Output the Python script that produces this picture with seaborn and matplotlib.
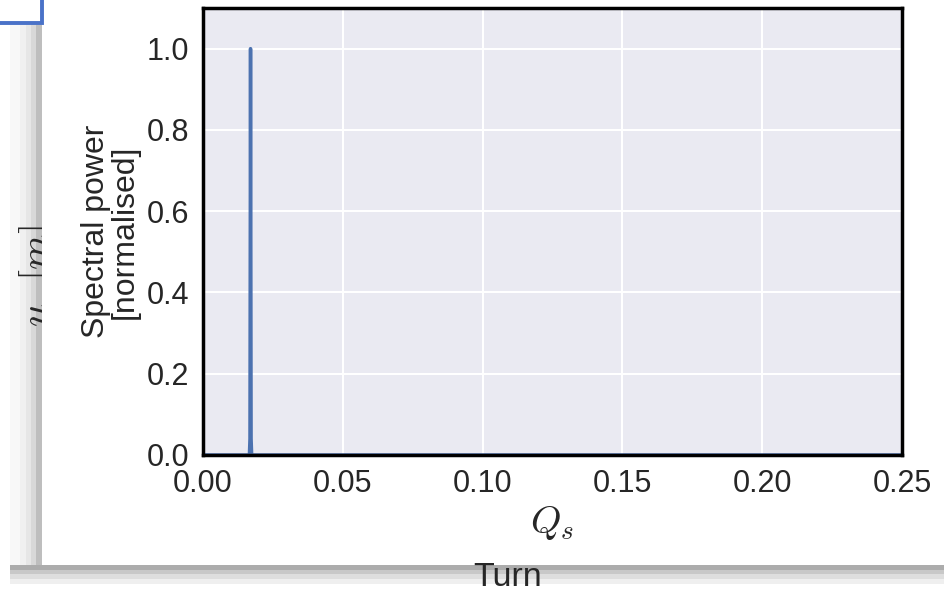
import numpy as np
import pandas as pd
import matplotlib
matplotlib.use("Agg")
import matplotlib.pyplot as plt
import seaborn as sns
from matplotlib.patches import Rectangle

# ---- data ----
qs = [0.0, 0.0166, 0.0168, 0.0170, 0.0172, 0.0174, 0.25]
power = [0.0, 0.0, 0.04, 1.0, 0.04, 0.0, 0.0]
x_ticks = [0.00, 0.05, 0.10, 0.15, 0.20, 0.25]
y_ticks = [0.0, 0.2, 0.4, 0.6, 0.8, 1.0]

df = pd.DataFrame({"Qs": qs, "power": power})

sns.set_theme(style="darkgrid")
plt.rcParams["font.family"] = ["Liberation Sans", "DejaVu Sans"]
plt.rcParams["mathtext.fontset"] = "cm"

W, H = 944, 592
fig = plt.figure(figsize=(W / 100, H / 100), dpi=100)
fig.patch.set_facecolor("white")

def fx(px):
    return px / W

def fy(py):
    return 1 - py / H

# background decorations (screenshot of an underlying figure)
shadow_left = [(10, 20, "#f8f8f8"), (20, 26, "#f0f0f0"), (26, 31, "#e6e6e6"), (31, 36, "#d8d8d8"), (36, 42, "#bebebe")]
for x0, x1, c in shadow_left:
    fig.patches.append(Rectangle((fx(x0), fy(583)), fx(x1 - x0), fy(0) - fy(583) + 0.01,
                                 transform=fig.transFigure, facecolor=c, edgecolor="none", zorder=-5))
shadow_bottom = [(565, 570, "#acacac"), (570, 574, "#c8c8c8"), (574, 579, "#dedede"), (579, 584, "#efefef")]
for y0, y1, c in shadow_bottom:
    fig.patches.append(Rectangle((fx(10), fy(y1)), fx(944 - 10), fy(y0) - fy(y1),
                                 transform=fig.transFigure, facecolor=c, edgecolor="none", zorder=-5))

fig.text(fx(39), fy(276), r"$u\ \ [m]$", rotation=90, ha="center", va="center",
         fontsize=29, color="#262626", zorder=-4)

# white panel (inset figure)
fig.patches.append(Rectangle((fx(42), fy(565)), fx(944 - 42), fy(0) - fy(565) + 0.01,
                             transform=fig.transFigure, facecolor="white", edgecolor="none", zorder=-3))

# blue box top-left
fig.patches.append(Rectangle((fx(-4), fy(23)), fx(46), fy(0) - fy(23) + 0.01,
                             transform=fig.transFigure, facecolor="white", edgecolor="#4A72C8",
                             linewidth=2.8, zorder=-2))

fig.text(fx(508), fy(577), "Turn", ha="center", va="center", fontsize=24.5, color="#262626", zorder=-1)

ax = fig.add_axes([fx(203), fy(455), fx(902 - 203), fy(8) - fy(455)])
ax.set_zorder(1)
sns.lineplot(data=df, x="Qs", y="power", ax=ax, color="#4C72B0", linewidth=2.5)

ax.set_xlim(0, 0.25)
ax.set_ylim(0, 1.1)
ax.set_xticks(x_ticks)
ax.set_xticklabels([f"{v:.2f}" for v in x_ticks])
ax.set_yticks(y_ticks)
ax.set_yticklabels([f"{v:.1f}" for v in y_ticks])
ax.tick_params(axis="both", labelsize=22, colors="#262626", pad=4)
ax.set_xlabel(r"$Q_s$", fontsize=28, color="#262626", labelpad=4)
ax.set_ylabel("Spectral power\n[normalised]", fontsize=23, color="#262626", labelpad=5, linespacing=0.95)
for s in ax.spines.values():
    s.set_visible(True)
    s.set_color("black")
    s.set_linewidth(2.5)
ax.grid(True, color="white", linewidth=1.5)

fig.savefig("out.png", dpi=100)
